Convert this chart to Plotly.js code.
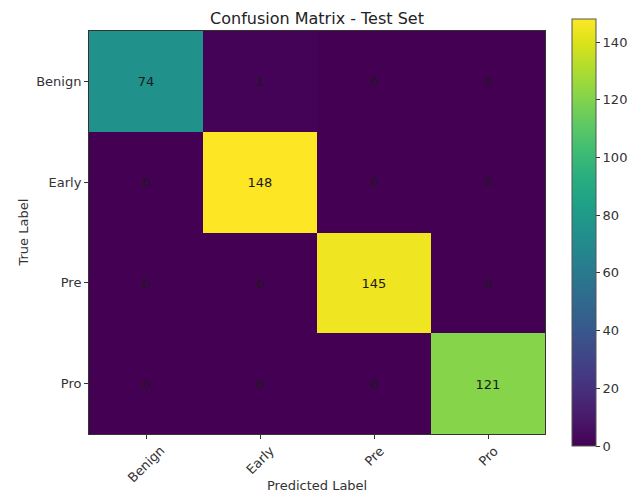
<!DOCTYPE html>
<html>
<head>
<meta charset="utf-8">
<script src="https://cdn.plot.ly/plotly-3.0.1.min.js"></script>
<style>html,body{margin:0;padding:0;background:#fff;}#chart{width:633px;height:495px;}</style>
</head>
<body>
<div id="chart"></div>
<script>
const predictedLabels = ["Benign", "Early", "Pre", "Pro"];
const trueLabels = ["Benign", "Early", "Pre", "Pro"];
const rowBenign = [74, 1, 0, 0];
const rowEarly = [0, 148, 0, 0];
const rowPre = [0, 0, 145, 0];
const rowPro = [0, 0, 0, 121];
const colorbarTicks = [0, 20, 40, 60, 80, 100, 120, 140];

const z = [rowBenign, rowEarly, rowPre, rowPro];
const font = "DejaVu Sans, sans-serif";
const txt = "#333";

const trace = {
  type: "heatmap",
  x: predictedLabels,
  y: trueLabels,
  z: z,
  zmin: 0,
  zmax: 148,
  colorscale: "Viridis",
  xgap: 0, ygap: 0,
  texttemplate: "%{z}",
  textfont: {family: font, size: 13, color: "#1a1a1a"},
  hoverinfo: "skip",
  colorbar: {
    xref: "container", x: 572 / 633, xanchor: "left",
    y: 0.5, yanchor: "middle",
    len: 427 / 403, lenmode: "fraction",
    thickness: 24,
    outlinewidth: 1, outlinecolor: "#555",
    tickvals: colorbarTicks,
    ticks: "outside", ticklen: 4, tickcolor: "#333",
    tickfont: {family: font, size: 13, color: txt},
    xpad: 0, ypad: 0
  }
};

const annotations = predictedLabels.map(lbl => ({
  x: lbl, xref: "x",
  y: -0.017, yref: "paper",
  xanchor: "center", yanchor: "top",
  text: lbl, textangle: -45, showarrow: false,
  font: {family: font, size: 13, color: txt}
}));
annotations.push({
  x: 0.5, xref: "paper", y: -0.129, yref: "paper",
  xanchor: "center", yanchor: "middle",
  text: "Predicted Label", showarrow: false,
  font: {family: font, size: 13, color: txt}
});
annotations.push({
  x: -0.1447, xref: "paper", y: 0.5, yref: "paper",
  xanchor: "center", yanchor: "middle",
  text: "True Label", textangle: -90, showarrow: false,
  font: {family: font, size: 13, color: txt}
});

const layout = {
  width: 633, height: 495,
  margin: {l: 89, r: 88, t: 31, b: 61},
  paper_bgcolor: "#fff", plot_bgcolor: "#fff",
  title: {text: "Confusion Matrix - Test Set", font: {family: font, size: 16, color: "#222"}, x: 0.5, xref: "paper", y: 0.9636, yanchor: "middle"},
  xaxis: {
    showticklabels: false,
    ticks: "outside", ticklen: 4, tickcolor: "#333",
    showline: true, linecolor: "#333", linewidth: 1, mirror: true,
    showgrid: false, zeroline: false, automargin: false
  },
  yaxis: {
    autorange: "reversed",
    ticks: "outside", ticklen: 4, tickcolor: "#333",
    tickfont: {family: font, size: 13, color: txt},
    showline: true, linecolor: "#333", linewidth: 1, mirror: true,
    showgrid: false, zeroline: false, automargin: false
  },
  annotations: annotations
};

Plotly.newPlot("chart", [trace], layout, {displayModeBar: false, staticPlot: true});
</script>
</body>
</html>
